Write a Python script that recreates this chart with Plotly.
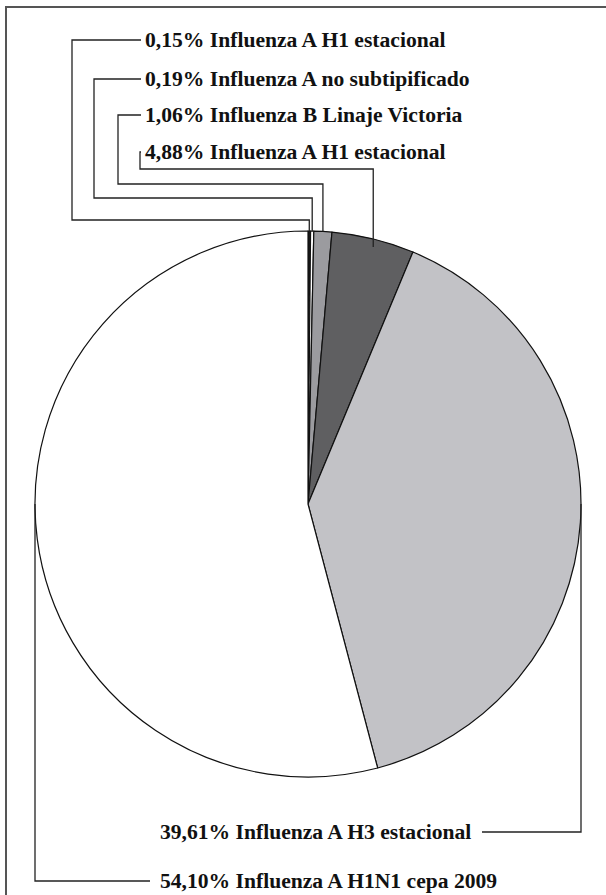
import math
import plotly.graph_objects as go

# ---- data ----
labels = [
    "Influenza A H1 estacional",
    "Influenza A no subtipificado",
    "Influenza B Linaje Victoria",
    "Influenza A H1 estacional ",
    "Influenza A H3 estacional",
    "Influenza A H1N1 cepa 2009",
]
pct_text = ["0,15%", "0,19%", "1,06%", "4,88%", "39,61%", "54,10%"]
values = [0.15, 0.19, 1.06, 4.88, 39.61, 54.10]
colors = ["#1c1c1c", "#ffffff", "#9b9b9f", "#5f5f61", "#c2c2c6", "#ffffff"]

W, H = 606, 895
CX, CY, R = 308, 504, 273  # pie placement in pixels

def px(x):
    return x / W

def py(y):
    return 1 - y / H

fig = go.Figure()
fig.add_trace(go.Pie(
    labels=[f"{p} {l}" for p, l in zip(pct_text, labels)],
    values=values,
    sort=False,
    direction="clockwise",
    rotation=0,
    textinfo="none",
    hoverinfo="label",
    marker=dict(colors=colors, line=dict(color="#111111", width=1.2)),
    domain=dict(x=[px(CX - R), px(CX + R)], y=[py(CY + R), py(CY - R)]),
    showlegend=False,
))

total = sum(values)
mids = []
cum = 0
for v in values:
    mids.append((cum + v / 2) / total * 360)
    cum += v

shapes = []
annotations = []
line_style = dict(color="#222222", width=1.3)
FAM = "'Liberation Serif', 'Times New Roman', Tinos, 'DejaVu Serif', serif"
FONT = dict(family=FAM, size=21.6, color="#111111", weight="bold")

row_y = [40, 79, 115, 152]
left_x = [72, 94, 118, 140]
elbow_y = [220, 198, 184, 169]
text_x = 143
for i in range(4):
    a = math.radians(mids[i])
    sx = CX + R * math.sin(a)
    sy = CY - R * math.cos(a) + (8 if i == 3 else 0)
    path = (f"M {px(sx)},{py(sy)} L {px(sx)},{py(elbow_y[i])} "
            f"L {px(left_x[i])},{py(elbow_y[i])} L {px(left_x[i])},{py(row_y[i])} "
            f"L {px(text_x - 2)},{py(row_y[i])}")
    shapes.append(dict(type="path", xref="paper", yref="paper", path=path,
                       line=line_style))
    annotations.append(dict(x=px(text_x), y=py(row_y[i]), xref="paper", yref="paper",
                            xanchor="left", yanchor="middle", showarrow=False,
                            font=FONT,
                            text=f"{pct_text[i]} {labels[i].strip()}"))

y39 = 832
path = (f"M {px(CX + R)},{py(CY)} L {px(CX + R)},{py(y39)} L {px(482)},{py(y39)}")
shapes.append(dict(type="path", xref="paper", yref="paper", path=path, line=line_style))
annotations.append(dict(x=px(158), y=py(y39), xref="paper", yref="paper",
                        xanchor="left", yanchor="middle", showarrow=False, font=FONT,
                        text=f"{pct_text[4]} {labels[4]}"))

y54 = 881
path = (f"M {px(CX - R)},{py(CY)} L {px(CX - R)},{py(y54)} L {px(150)},{py(y54)}")
shapes.append(dict(type="path", xref="paper", yref="paper", path=path, line=line_style))
annotations.append(dict(x=px(158), y=py(y54), xref="paper", yref="paper",
                        xanchor="left", yanchor="middle", showarrow=False, font=FONT,
                        text=f"{pct_text[5]} {labels[5]}"))

shapes.append(dict(type="rect", xref="paper", yref="paper",
                   x0=px(6), y0=py(H + 10), x1=px(W + 10), y1=py(7),
                   line=dict(color="#555555", width=2)))

fig.update_layout(
    width=W, height=H,
    margin=dict(l=0, r=0, t=0, b=0),
    paper_bgcolor="white", plot_bgcolor="white",
    font=dict(family=FAM, size=21.6, color="#111111"),
    shapes=shapes,
    annotations=annotations,
    showlegend=False,
)

fig.write_html("out.html")
